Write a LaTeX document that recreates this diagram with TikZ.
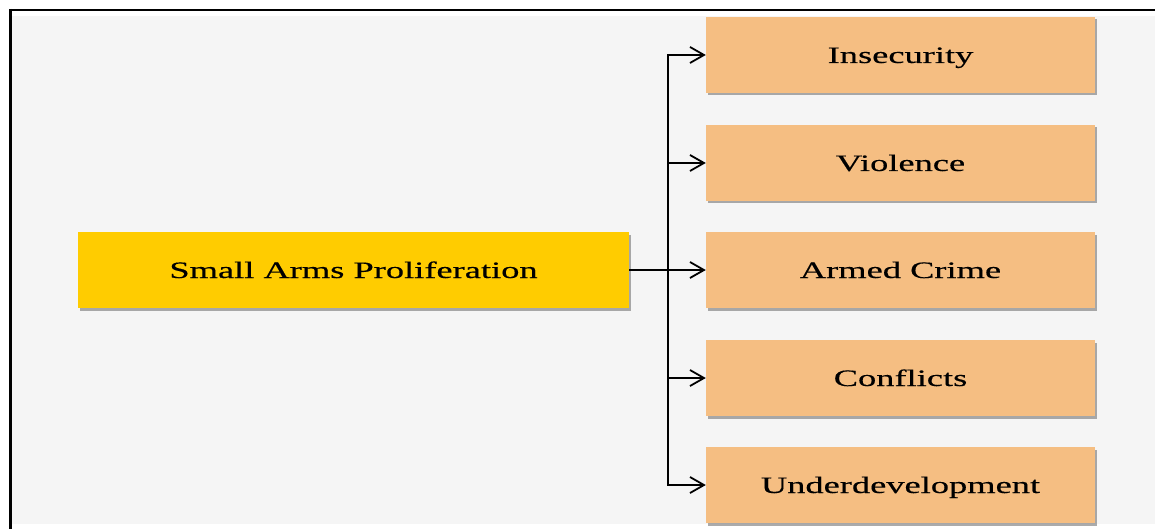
\documentclass[tikz,border=0pt]{standalone}
\usepackage{fontspec}
\usepackage{tikz}
\usetikzlibrary{arrows.meta,shadows}
\newfontfamily\boxfont[FakeStretch=1.55,FakeBold=0.4]{Liberation Serif}
\definecolor{causeyellow}{HTML}{FFCC00}
\definecolor{effectorange}{HTML}{F5BE82}
\definecolor{canvasgray}{HTML}{F5F5F5}
\tikzset{
	box/.style={draw=none, minimum height=76pt, text height=16pt, text depth=0pt,
		font=\boxfont\fontsize{23.5}{27}\selectfont,
		drop shadow={shadow xshift=2pt, shadow yshift=-2.5pt, fill=black!55, opacity=0.6}},
	causebox/.style={box, fill=causeyellow, minimum width=551pt},
	effectbox/.style={box, fill=effectorange, minimum width=389pt},
	link/.style={line width=1.8pt, -{Straight Barb[length=14pt,width=16pt,line width=1.8pt]}}
}

\begin{document}
\begin{tikzpicture}[x=1pt, y=-1pt]
		%%%%% START %%%%%
		\useasboundingbox (0, 0) rectangle (1155, 529);
		
		\fill[white] (0, 0) rectangle (1155, 529);
		\fill[canvasgray] (12, 16) rectangle (1155, 524);
		\draw[line width=2pt] (10.5, 10) -- (1155, 10);
		\draw[line width=3pt] (10.5, 9) -- (10.5, 529);
		
		\node[causebox] (arms) at (353.5, 270) {Small Arms Proliferation};
		
		\node[effectbox] (insecurity) at (900.5, 55) {Insecurity};
		\node[effectbox] (violence) at (900.5, 163) {Violence};
		\node[effectbox] (crime) at (900.5, 270) {Armed Crime};
		\node[effectbox] (conflicts) at (900.5, 378) {Conflicts};
		\node[effectbox] (underdev) at (900.5, 485) {Underdevelopment};
		
		\coordinate (bus) at (668, 270);
		\draw[line width=1.8pt] (arms.east) -- (bus);
		\foreach \target in {insecurity, violence, crime, conflicts, underdev}
			\draw[link] (bus) |- (\target.west);
		
		%%%%% END %%%%%
	\end{tikzpicture}
\end{document}
